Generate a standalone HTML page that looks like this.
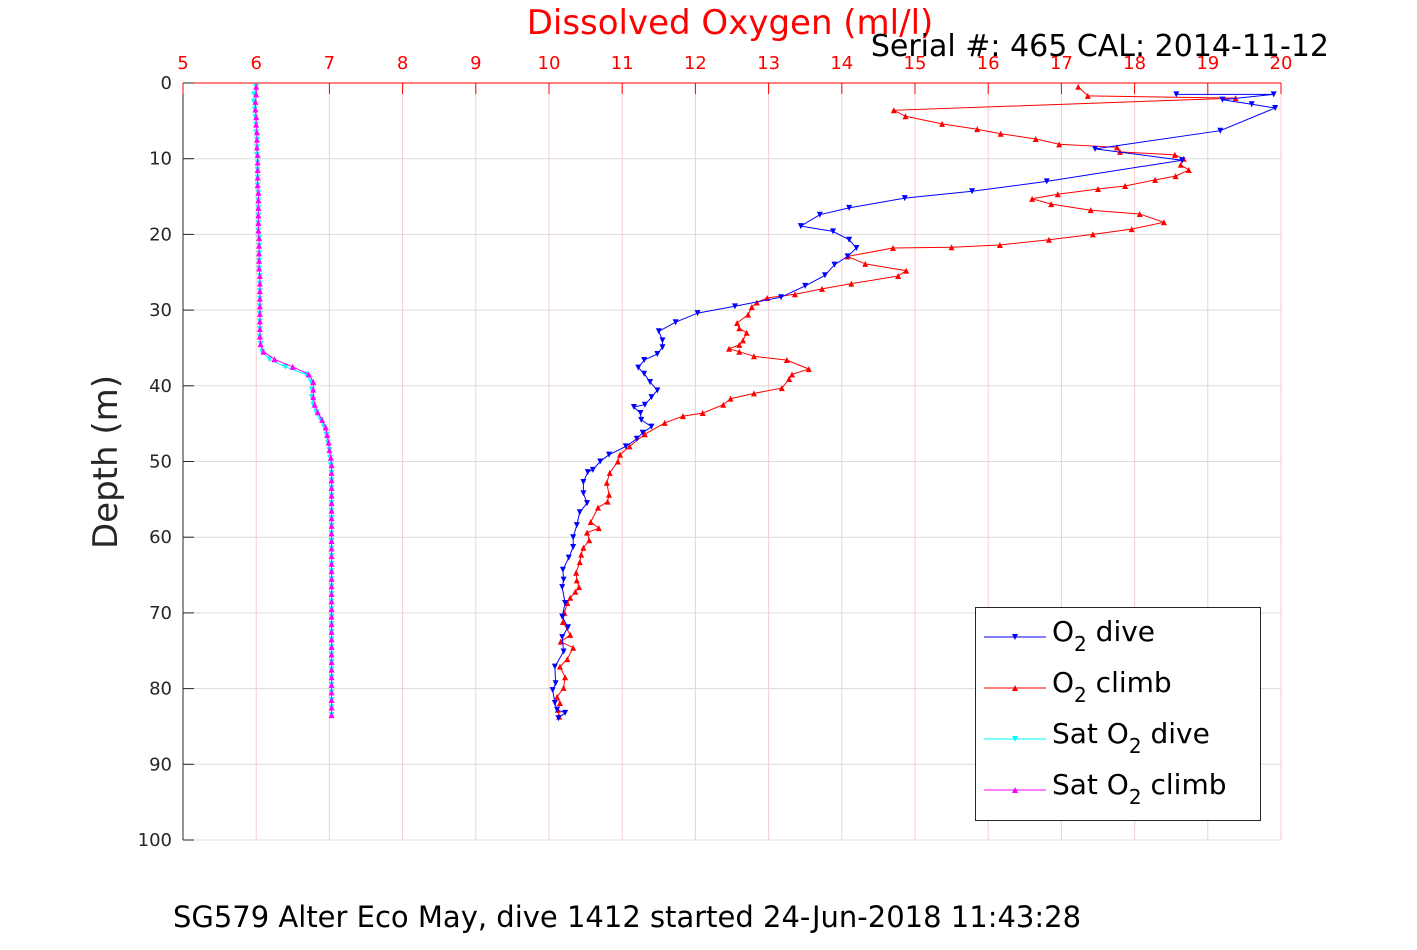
<!DOCTYPE html>
<html><head><meta charset="utf-8"><style>
body{margin:0;background:#fff;width:1417px;height:945px;overflow:hidden;font-family:"Liberation Sans","DejaVu Sans",sans-serif}
</style></head><body>
<svg id="chart" width="1417" height="945" xmlns="http://www.w3.org/2000/svg" font-family="DejaVu Sans, Liberation Sans, sans-serif"></svg>
<script>
const xTicks=[5,6,7,8,9,10,11,12,13,14,15,16,17,18,19,20];
const yTicks=[0,10,20,30,40,50,60,70,80,90,100];
const diveVal=[18.57,19.9,19.2,19.6,19.92,19.17,17.46,18.65,16.8,15.78,14.86,14.1,13.7,13.44,13.88,14.1,14.2,14.08,13.9,13.77,13.5,13.17,12.54,12.03,11.73,11.5,11.55,11.55,11.48,11.3,11.22,11.3,11.38,11.48,11.4,11.31,11.16,11.25,11.26,11.4,11.28,11.2,11.05,10.82,10.7,10.6,10.53,10.47,10.47,10.52,10.42,10.38,10.33,10.33,10.27,10.19,10.2,10.18,10.22,10.18,10.26,10.18,10.2,10.08,10.09,10.05,10.08,10.11,10.22,10.13];
const diveDep=[1.5,1.5,2.2,2.8,3.3,6.3,8.7,10.2,13,14.3,15.2,16.5,17.4,18.9,19.6,20.7,21.8,22.9,24,25.4,26.8,28.3,29.5,30.4,31.6,32.8,34,34.9,35.8,36.6,37.6,38.4,39.5,40.6,41.5,42.5,42.8,43.6,44.5,45.4,46.2,47,48,49.1,50,51.1,51.4,52.7,54.2,55.5,56.7,58.4,60,61.3,62.7,64.3,65.6,66.6,68.7,70.5,71.9,73.2,75.1,77.1,79.3,80.2,81.9,82.8,83.2,83.9];
const climbVal=[17.23,17.36,19.38,14.71,14.87,15.37,15.85,16.17,16.65,16.97,17.76,17.8,18.55,18.67,18.63,18.74,18.56,18.28,17.87,17.5,16.95,16.6,16.86,17.4,18.07,18.4,17.96,17.43,16.83,16.16,15.5,14.7,14.08,14.32,14.88,14.77,14.13,13.73,13.36,12.98,12.84,12.77,12.72,12.57,12.6,12.7,12.65,12.6,12.46,12.6,12.8,13.25,13.55,13.32,13.28,13.18,12.8,12.48,12.38,12.1,11.83,11.58,11.31,11.1,10.97,10.94,10.83,10.79,10.82,10.8,10.67,10.57,10.68,10.52,10.55,10.47,10.44,10.42,10.37,10.38,10.41,10.36,10.29,10.25,10.21,10.19,10.29,10.16,10.33,10.25,10.15,10.22,10.2,10.11,10.15,10.12,10.14];
const climbDep=[0.5,1.7,2,3.6,4.4,5.4,6.1,6.7,7.4,8.1,8.5,9.1,9.5,10,10.8,11.5,12.3,12.8,13.6,14,14.7,15.3,16,16.8,17.3,18.4,19.3,20,20.7,21.4,21.7,21.8,22.9,23.9,24.8,25.5,26.5,27.2,27.9,28.4,29,29.6,30.6,31.7,32.4,33,34,34.6,35.1,35.5,36.1,36.6,37.8,38.5,39.1,40.3,41,41.7,42.5,43.6,44,44.9,46.4,48,49.1,50,51.5,52.8,54.4,55.3,56.1,58,58.8,59.4,60.4,61.4,62.3,63.3,64.7,65.7,66.6,67.2,68,68.7,70,71.2,72.9,73.8,74.6,76.1,77.1,78.5,79.9,81.1,81.9,82.8,83.7];
const satDiveVal=[6.0,5.97,5.97,5.98,5.99,6.0,6.0,6.01,6.01,6.01,6.02,6.02,6.02,6.02,6.03,6.03,6.03,6.03,6.03,6.03,6.04,6.04,6.04,6.04,6.04,6.05,6.05,6.05,6.05,6.05,6.05,6.05,6.05,6.05,6.06,6.08,6.18,6.4,6.68,6.75,6.76,6.76,6.78,6.82,6.88,6.93,6.96,6.98,7.0,7.01,7.02,7.03,7.03,7.03,7.03,7.03,7.03,7.03,7.03,7.03,7.03,7.03,7.03,7.03,7.03,7.03,7.03,7.03,7.03,7.03,7.03,7.03,7.03,7.03,7.03,7.03,7.03,7.03,7.03,7.03,7.03,7.03,7.03,7.03];
const satClimbVal=[6.0,6.0,5.99,5.99,6.0,6.0,6.01,6.01,6.01,6.02,6.02,6.02,6.02,6.02,6.03,6.03,6.03,6.03,6.03,6.03,6.04,6.04,6.04,6.04,6.04,6.05,6.05,6.05,6.05,6.05,6.05,6.05,6.05,6.05,6.06,6.1,6.25,6.5,6.72,6.78,6.78,6.78,6.8,6.84,6.9,6.95,6.97,6.99,7.0,7.02,7.03,7.03,7.03,7.03,7.03,7.03,7.03,7.03,7.03,7.03,7.03,7.03,7.03,7.03,7.03,7.03,7.03,7.03,7.03,7.03,7.03,7.03,7.03,7.03,7.03,7.03,7.03,7.03,7.03,7.03,7.03,7.03,7.03,7.03];
const satDep=[0.5,1.5,2.5,3.5,4.5,5.5,6.5,7.5,8.5,9.5,10.5,11.5,12.5,13.5,14.5,15.5,16.5,17.5,18.5,19.5,20.5,21.5,22.5,23.5,24.5,25.5,26.5,27.5,28.5,29.5,30.5,31.5,32.5,33.5,34.5,35.5,36.5,37.5,38.5,39.5,40.5,41.5,42.5,43.5,44.5,45.5,46.5,47.5,48.5,49.5,50.5,51.5,52.5,53.5,54.5,55.5,56.5,57.5,58.5,59.5,60.5,61.5,62.5,63.5,64.5,65.5,66.5,67.5,68.5,69.5,70.5,71.5,72.5,73.5,74.5,75.5,76.5,77.5,78.5,79.5,80.5,81.5,82.5,83.5];

const L=183,R=1281,T=83,B=840;
const xs=v=>L+(v-5)/15*(R-L);
const ys=d=>T+d/100*(B-T);
const svg=document.getElementById('chart');
const NS='http://www.w3.org/2000/svg';
function mk(tag,attrs,parent){const e=document.createElementNS(NS,tag);for(const k in attrs)e.setAttribute(k,attrs[k]);(parent||svg).appendChild(e);return e;}

const grid=mk('g',{});


yTicks.forEach(t=>{mk('line',{x1:L,x2:R,y1:ys(t),y2:ys(t),stroke:'#dcdcdc','stroke-width':1},grid);});
xTicks.forEach(t=>{mk('line',{x1:xs(t),x2:xs(t),y1:T,y2:B,stroke:'#f6cccc','stroke-width':1},grid);});

// axes
const topAx=mk('line',{x1:L,x2:R,y1:T,y2:T,stroke:'#f00','stroke-width':1});


const leftAx=mk('line',{x1:L,x2:L,y1:T,y2:B,stroke:'#262626','stroke-width':1});


xTicks.forEach(t=>{
  mk('line',{x1:xs(t),x2:xs(t),y1:T,y2:T+11,stroke:'#f00'});
  const tx=mk('text',{x:xs(t),y:69,'text-anchor':'middle','font-size':18,fill:'#f00'});
  tx.textContent=t;
  
  
});
yTicks.forEach(t=>{
  mk('line',{x1:L,x2:L+11,y1:ys(t),y2:ys(t),stroke:'#262626'});
  const tx=mk('text',{x:L-11,y:ys(t)+6,'text-anchor':'end','font-size':18,fill:'#262626'});
  tx.textContent=t;
  
  
});

function series(vals,deps,color,down,name){
  const g=mk('g',{});
  
  
  const pts=vals.map((v,i)=>xs(v).toFixed(1)+','+ys(deps[i]).toFixed(1)).join(' ');
  mk('polyline',{points:pts,fill:'none',stroke:color,'stroke-width':1},g);
  vals.forEach((v,i)=>{
    const x=xs(v),y=ys(deps[i]),s=3;
    const p=down?`${x-s},${y-s} ${x+s},${y-s} ${x},${y+s}`:`${x-s},${y+s} ${x+s},${y+s} ${x},${y-s}`;
    const m=mk('polygon',{points:p,fill:color},g);
    
    
  });
}
series(satDiveVal,satDep,'#00ffff',true,'sat-o2-dive-line');
series(satClimbVal,satDep,'#ff00ff',false,'sat-o2-climb-line');
series(climbVal,climbDep,'#ff0000',false,'o2-climb-line');
series(diveVal,diveDep,'#0000ff',true,'o2-dive-line');
</script>
<svg style="position:absolute;left:0;top:0" width="1417" height="945" font-family="DejaVu Sans, Liberation Sans, sans-serif">
  <text x="730" y="34" text-anchor="middle" font-size="34" fill="#f00">Dissolved Oxygen (ml/l)</text>
  <text x="1329" y="56" text-anchor="end" font-size="30" fill="#000">Serial #: 465  CAL: 2014-11-12</text>
  <text transform="translate(117,462) rotate(-90)" text-anchor="middle" font-size="34" fill="#262626">Depth (m)</text>
  <text x="627" y="927" text-anchor="middle" font-size="29" fill="#000">SG579 Alter Eco May, dive 1412 started 24-Jun-2018 11:43:28</text>
  <g>
    <rect x="975.5" y="607.5" width="285" height="213" fill="#fff" stroke="#262626" stroke-width="1"/>
    <g>
      <line x1="984" x2="1046" y1="637" y2="637" stroke="#00f"/><polygon points="1012,634 1018,634 1015,640" fill="#00f"/>
      <text x="1052" y="641" font-size="28" fill="#000">O<tspan font-size="20" dy="10">2</tspan><tspan dy="-10"> dive</tspan></text>
    </g>
    <g>
      <line x1="984" x2="1046" y1="688" y2="688" stroke="#f00"/><polygon points="1012,691 1018,691 1015,685" fill="#f00"/>
      <text x="1052" y="692" font-size="28" fill="#000">O<tspan font-size="20" dy="10">2</tspan><tspan dy="-10"> climb</tspan></text>
    </g>
    <g>
      <line x1="984" x2="1046" y1="739" y2="739" stroke="#0ff"/><polygon points="1012,736 1018,736 1015,742" fill="#0ff"/>
      <text x="1052" y="743" font-size="28" fill="#000">Sat O<tspan font-size="20" dy="10">2</tspan><tspan dy="-10"> dive</tspan></text>
    </g>
    <g>
      <line x1="984" x2="1046" y1="790" y2="790" stroke="#f0f"/><polygon points="1012,793 1018,793 1015,787" fill="#f0f"/>
      <text x="1052" y="794" font-size="28" fill="#000">Sat O<tspan font-size="20" dy="10">2</tspan><tspan dy="-10"> climb</tspan></text>
    </g>
  </g>
</svg>
</body></html>
